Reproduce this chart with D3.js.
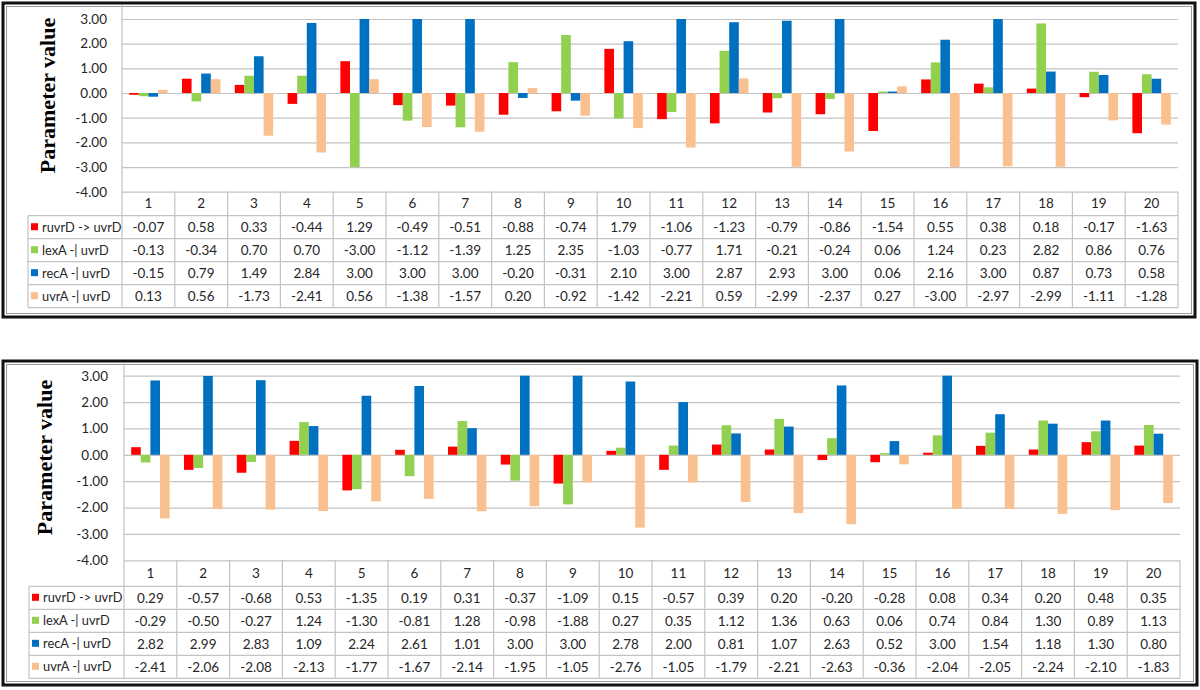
<!DOCTYPE html>
<html>
<head>
<meta charset="utf-8">
<script src="https://cdn.jsdelivr.net/npm/d3@7"></script>
<style>
  body { margin: 0; background: #fff; }
  svg { display: block; }
</style>
</head>
<body>
<script>

// categories (runs) and series
var categories = ["1","2","3","4","5","6","7","8","9","10","11","12","13","14","15","16","17","18","19","20"];
var seriesNames = ["ruvrD -> uvrD", "lexA -| uvrD", "recA -| uvrD", "uvrA -| uvrD"];
var seriesColors = ["#ff0000", "#92d050", "#0070c0", "#fac090"];
var yTicks = [-4, -3, -2, -1, 0, 1, 2, 3];

// top chart
var ruvrD1 = [-0.07, 0.58, 0.33, -0.44, 1.29, -0.49, -0.51, -0.88, -0.74, 1.79, -1.06, -1.23, -0.79, -0.86, -1.54, 0.55, 0.38, 0.18, -0.17, -1.63];
var lexA1  = [-0.13, -0.34, 0.70, 0.70, -3.00, -1.12, -1.39, 1.25, 2.35, -1.03, -0.77, 1.71, -0.21, -0.24, 0.06, 1.24, 0.23, 2.82, 0.86, 0.76];
var recA1  = [-0.15, 0.79, 1.49, 2.84, 3.00, 3.00, 3.00, -0.20, -0.31, 2.10, 3.00, 2.87, 2.93, 3.00, 0.06, 2.16, 3.00, 0.87, 0.73, 0.58];
var uvrA1  = [0.13, 0.56, -1.73, -2.41, 0.56, -1.38, -1.57, 0.20, -0.92, -1.42, -2.21, 0.59, -2.99, -2.37, 0.27, -3.00, -2.97, -2.99, -1.11, -1.28];

// bottom chart
var ruvrD2 = [0.29, -0.57, -0.68, 0.53, -1.35, 0.19, 0.31, -0.37, -1.09, 0.15, -0.57, 0.39, 0.20, -0.20, -0.28, 0.08, 0.34, 0.20, 0.48, 0.35];
var lexA2  = [-0.29, -0.50, -0.27, 1.24, -1.30, -0.81, 1.28, -0.98, -1.88, 0.27, 0.35, 1.12, 1.36, 0.63, 0.06, 0.74, 0.84, 1.30, 0.89, 1.13];
var recA2  = [2.82, 2.99, 2.83, 1.09, 2.24, 2.61, 1.01, 3.00, 3.00, 2.78, 2.00, 0.81, 1.07, 2.63, 0.52, 3.00, 1.54, 1.18, 1.30, 0.80];
var uvrA2  = [-2.41, -2.06, -2.08, -2.13, -1.77, -1.67, -2.14, -1.95, -1.05, -2.76, -1.05, -1.79, -2.21, -2.63, -0.36, -2.04, -2.05, -2.24, -2.10, -1.83];

var gridColor = "#c3c3c3",
    textColor = "#262626",
    font = "Lato, 'Open Sans', sans-serif";

var svg = d3.select("body").append("svg")
    .attr("width", 1200)
    .attr("height", 690);

drawPanel({
    frame: [3, 3, 1195, 317],
    left: 122, right: 1178,
    yTop: 19, yBottom: 191.7,
    legendLeft: 28, headerH: 24, rowH: 23,
    tickX: 107, titleX: 47,
    series: [ruvrD1, lexA1, recA1, uvrA1]
});

drawPanel({
    frame: [3, 361, 1197, 685],
    left: 124, right: 1180,
    yTop: 375.7, yBottom: 560.3,
    legendLeft: 29, headerH: 26, rowH: 23,
    tickX: 108, titleX: 44,
    series: [ruvrD2, lexA2, recA2, uvrA2]
});

function drawPanel(p) {

    var g = svg.append("g"),
        fmt = function(v) { return v.toFixed(2); },
        x, xs, y, rows, tableTop, tableBottom;

    // double border like an excel chart object
    g.append("rect")
        .attr("x", p.frame[0]).attr("y", p.frame[1])
        .attr("width", p.frame[2] - p.frame[0]).attr("height", p.frame[3] - p.frame[1])
        .attr("fill", "none").attr("stroke", "#111").attr("stroke-width", 3);
    g.append("rect")
        .attr("x", p.frame[0] + 3.5).attr("y", p.frame[1] + 3.5)
        .attr("width", p.frame[2] - p.frame[0] - 7).attr("height", p.frame[3] - p.frame[1] - 7)
        .attr("fill", "none").attr("stroke", "#9a9a9a").attr("stroke-width", 1);

    x = d3.scaleBand().domain(categories).range([p.left, p.right]);
    xs = d3.scaleBand().domain(seriesNames)
        .range([x.bandwidth() * 0.136, x.bandwidth() * 0.864]);
    y = d3.scaleLinear().domain([-4, 3]).range([p.yBottom, p.yTop]);

    // gridlines + tick labels
    var yAxis = d3.axisLeft(y)
        .tickValues(yTicks)
        .tickSize(-(p.right - p.left))
        .tickPadding(p.left - p.tickX)
        .tickFormat(fmt);

    var ax = g.append("g")
        .attr("transform", "translate(" + p.left + ",0)")
        .call(yAxis);
    ax.select(".domain").remove();
    ax.selectAll(".tick line").attr("stroke", gridColor).attr("stroke-width", 1.2);
    ax.selectAll(".tick text")
        .attr("fill", textColor)
        .style("font-family", font)
        .style("font-size", "13.5px");

    // bars
    var groups = g.selectAll(".series")
        .data(p.series)
        .enter().append("g")
        .attr("fill", function(d, i) { return seriesColors[i]; });

    groups.each(function(vals, si) {
        d3.select(this).selectAll("rect")
            .data(vals)
            .enter().append("rect")
            .attr("x", function(d, i) { return x(categories[i]) + xs(seriesNames[si]); })
            .attr("width", xs.bandwidth())
            .attr("y", function(d) { return y(Math.max(0, d)); })
            .attr("height", function(d) { return Math.abs(y(d) - y(0)); });
    });

    // axis line
    tableTop = p.yBottom;
    tableBottom = tableTop + p.headerH + p.rowH * seriesNames.length;

    g.append("line")
        .attr("x1", p.left).attr("x2", p.left)
        .attr("y1", p.frame[1] + 2).attr("y2", tableBottom)
        .attr("stroke", gridColor).attr("stroke-width", 1.2);

    // data table
    var tbl = g.append("g")
        .attr("stroke", gridColor).attr("stroke-width", 1.2);

    categories.forEach(function(c) {
        tbl.append("line")
            .attr("x1", x(c) + x.bandwidth()).attr("x2", x(c) + x.bandwidth())
            .attr("y1", tableTop).attr("y2", tableBottom);
    });
    tbl.append("line")
        .attr("x1", p.legendLeft).attr("x2", p.legendLeft)
        .attr("y1", tableTop + p.headerH).attr("y2", tableBottom);

    d3.range(seriesNames.length + 1).forEach(function(r) {
        var yy = tableTop + p.headerH + r * p.rowH;
        tbl.append("line")
            .attr("x1", p.legendLeft).attr("x2", p.right)
            .attr("y1", yy).attr("y2", yy);
    });

    g.selectAll(".hdr")
        .data(categories)
        .enter().append("text")
        .attr("x", function(d) { return x(d) + x.bandwidth() / 2; })
        .attr("y", tableTop + p.headerH / 2)
        .attr("dy", "0.35em")
        .attr("text-anchor", "middle")
        .attr("fill", textColor)
        .style("font-family", font)
        .style("font-size", "13.5px")
        .text(function(d) { return d; });

    rows = g.selectAll(".row")
        .data(p.series)
        .enter().append("g")
        .attr("transform", function(d, i) {
            return "translate(0," + (tableTop + p.headerH + i * p.rowH + p.rowH / 2) + ")";
        });

    rows.append("rect")
        .attr("x", p.legendLeft + 3).attr("y", -4)
        .attr("width", 7).attr("height", 7)
        .attr("fill", function(d, i) { return seriesColors[i]; });

    rows.append("text")
        .attr("x", p.legendLeft + 14)
        .attr("dy", "0.35em")
        .attr("fill", textColor)
        .style("font-family", font)
        .style("font-size", "12.8px")
        .text(function(d, i) { return seriesNames[i]; });

    rows.selectAll(".val")
        .data(function(d) { return d; })
        .enter().append("text")
        .attr("x", function(d, i) { return x(categories[i]) + x.bandwidth() / 2; })
        .attr("dy", "0.35em")
        .attr("text-anchor", "middle")
        .attr("fill", textColor)
        .style("font-family", font)
        .style("font-size", "13.5px")
        .text(fmt);

    // y title
    g.append("text")
        .attr("transform", "translate(" + p.titleX + "," + y(-0.1) + ") rotate(-90)")
        .attr("text-anchor", "middle")
        .attr("dy", "0.35em")
        .attr("fill", "#000")
        .style("font-family", "'Liberation Serif', 'DejaVu Serif', serif")
        .style("font-weight", "bold")
        .style("font-size", "22px")
        .text("Parameter value");
}

</script>
</body>
</html>
